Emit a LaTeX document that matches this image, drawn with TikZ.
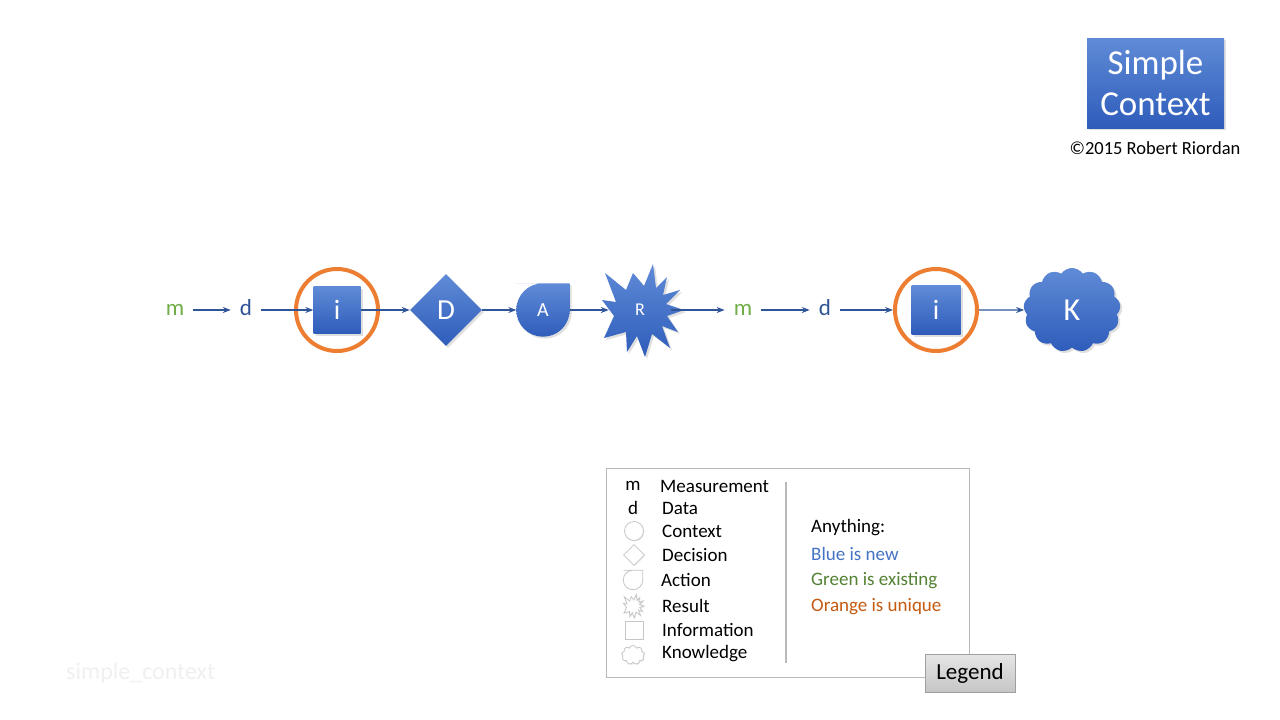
\documentclass[tikz,border=0pt]{standalone}
\usepackage{fontspec}
\setmainfont{Carlito}
\usetikzlibrary{shapes.geometric, shapes.symbols, arrows.meta, shadows, backgrounds}
\definecolor{blueTop}{RGB}{96,139,215}
\definecolor{blueBot}{RGB}{46,92,186}
\definecolor{arrowBlue}{RGB}{47,85,151}
\definecolor{ringOrange}{RGB}{237,125,49}
\definecolor{mGreen}{RGB}{112,173,71}
\definecolor{dBlue}{RGB}{47,84,150}
\definecolor{newBlue}{RGB}{68,114,196}
\definecolor{oldGreen}{RGB}{84,130,53}
\definecolor{uniqOrange}{RGB}{197,90,17}
\newcommand{\pxfont}[1]{\fontsize{#1}{#1}\selectfont}

\tikzset{
  blueshape/.style={top color=blueTop, bottom color=blueBot, draw=none, text=white, inner sep=0pt,
    drop shadow={opacity=0.25, shadow xshift=2pt, shadow yshift=-2pt}},
  flow/.style={draw=arrowBlue, line width=1.2pt, -{Stealth[length=8pt, width=6pt]}},
  lettr/.style={inner sep=9pt, text height=16pt, text depth=5pt, font=\pxfont{23}},
  ring/.style={circle, draw=ringOrange, line width=4pt, minimum size=82pt, inner sep=0pt},
  legsym/.style={draw=gray!45, fill=white, line width=0.8pt, inner sep=0pt,
    drop shadow={opacity=0.12, shadow xshift=1pt, shadow yshift=-1pt}},
  legtext/.style={anchor=west, inner sep=0pt, font=\pxfont{19}},
  % explosion outline around the current origin
  boom outline/.style={insert path={(13,-46) -- (4,-24) -- (-7,-37) -- (-14,-20) -- (-35,-37)
    -- (-24,-8) -- (-38,-10) -- (-26,6) -- (-36,28) -- (-14,22) -- (-13,42) -- (-3,26)
    -- (5,47) -- (12,24) -- (30,38) -- (22,16) -- (38,22) -- (27,6) -- (44,0) -- (26,-6)
    -- (40,-20) -- (23,-15) -- (27,-33) -- (16,-22) -- cycle}},
}

\begin{document}
\begin{tikzpicture}[x=1pt, y=-1pt]
    \useasboundingbox (0,0) rectangle (1280,720);
    \begin{scope}[on background layer]
        \fill[white] (0,0) rectangle (1280,720);
    \end{scope}

    % Title
    \node[blueshape, minimum width=137pt, minimum height=90pt, align=center,
          font=\fontsize{35}{41}\selectfont] (title) at (1155.5,83) {Simple\\Context};
    \node[font=\pxfont{18.5}] (copy) at (1155,148) {©2015 Robert Riordan};

    % Create flow nodes
    \node[lettr, text=mGreen] (m1) at (175,310) {m};
    \node[lettr, text=dBlue] (d1) at (246,310) {d};
    \node[blueshape, minimum size=47pt, font=\pxfont{28}] (i1) at (337,310) {i};
    \node[ring] (c1) at (337,310) {};
    \node[blueshape, diamond, aspect=1, minimum size=72pt, font=\pxfont{29}] (D) at (446,310) {D};
    \node[minimum size=53pt, inner sep=0pt, text=white, font=\pxfont{20}] (A) at (543,310) {A};
    \node[minimum width=62pt, minimum height=60pt, inner sep=0pt, text=white, font=\pxfont{18}] (R) at (640,310) {R};
    \node[lettr, text=mGreen] (m2) at (743,310) {m};
    \node[lettr, text=dBlue] (d2) at (825,310) {d};
    \node[blueshape, minimum size=49pt, font=\pxfont{28}] (i2) at (936,310) {i};
    \node[ring] (c2) at (936,310) {};
    \node[blueshape, cloud, cloud puffs=13, cloud puff arc=110, minimum width=97pt,
          minimum height=84pt, font=\pxfont{32}] (K) at (1072,310) {K};

    % Action and result shapes behind their labels
    \begin{scope}[on background layer]
        \shade[top color=blueTop, bottom color=blueBot, rounded corners=26.5pt,
               drop shadow={opacity=0.25, shadow xshift=2pt, shadow yshift=-2pt}]
            (A.east) -- (A.south east) -- (A.south west) -- (A.north west) -- (A.north)
            [sharp corners] -- (A.north east) -- cycle;
        \shade[top color=blueTop, bottom color=blueBot,
               drop shadow={opacity=0.25, shadow xshift=2pt, shadow yshift=-2pt},
               shift={(R)}, boom outline];
    \end{scope}

    % Draw edges
    \draw[flow] (m1) -- (d1);
    \draw[flow] (d1) -- (i1);
    \draw[flow] (i1) -- (D);
    \draw[flow] (D) -- (A);
    \draw[flow] (A) -- (R);
    \draw[flow] (R) -- (m2);
    \draw[flow] (m2) -- (d2);
    \draw[flow] (d2) -- (c2);
    \draw[flow] (c2) -- (K);

    % Legend
    \node[draw=gray!55, line width=1pt, minimum width=363pt, minimum height=209pt] (legbox) at (787.5,572.5) {};
    \coordinate (divtop) at (786,482);
    \coordinate (divbot) at (786,663);
    \draw[gray!55, line width=2pt] (divtop) -- (divbot);

    \node[font=\pxfont{19}] (lm) at (633,486) {m};
    \node[font=\pxfont{19}] (ld) at (633,508) {d};
    \node[legsym, circle, minimum size=19pt] (lc) at (634,531) {};
    \node[legsym, diamond, aspect=1, minimum size=21pt] (ldec) at (634,555) {};
    \node[minimum size=19pt, inner sep=0pt] (lact) at (633,580) {};
    \draw[gray!45, line width=0.8pt, rounded corners=9.5pt]
        (lact.east) -- (lact.south east) -- (lact.south west) -- (lact.north west) -- (lact.north)
        [sharp corners] -- (lact.north east) -- cycle;
    \node[minimum size=20pt, inner sep=0pt] (lres) at (633,606) {};
    \draw[legsym, shift={(lres)}, scale=0.25, boom outline];
    \node[legsym, minimum size=18pt] (linf) at (634,630) {};
    \node[legsym, cloud, cloud puffs=9, minimum width=23pt, minimum height=19pt] (lkn) at (633,655) {};

    \node[legtext] (tm) at (660,486) {Measurement};
    \node[legtext] (td) at (662,508) {Data};
    \node[legtext] (tc) at (662,531) {Context};
    \node[legtext] (tdec) at (662,555) {Decision};
    \node[legtext] (tact) at (661,580) {Action};
    \node[legtext] (tres) at (662,606) {Result};
    \node[legtext] (tinf) at (662,630) {Information};
    \node[legtext] (tkn) at (662,654) {Knowledge};

    \node[legtext] (tany) at (811,528) {Anything:};
    \node[legtext, text=newBlue] (tblue) at (811,554) {Blue is new};
    \node[legtext, text=oldGreen] (tgreen) at (811,581) {Green is existing};
    \node[legtext, text=uniqOrange] (torange) at (811,607) {Orange is unique};

    \node[draw=gray!75, top color=gray!20, bottom color=gray!45, minimum width=90pt, minimum height=38pt,
          font=\pxfont{23}] (legbtn) at (970,673) {Legend};

    % Watermark
    \node[anchor=west, inner sep=0pt, text=black!6, font=\pxfont{24}] (wm) at (66,673) {simple\_context};
\end{tikzpicture}
\end{document}
